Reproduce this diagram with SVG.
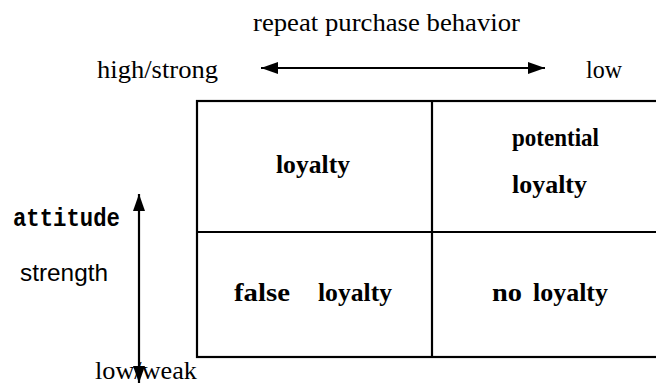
<svg xmlns="http://www.w3.org/2000/svg" width="656" height="385" viewBox="0 0 656 385">
<style>
.t{font-family:"Liberation Serif","Times New Roman",serif;font-size:26px;fill:#000}
.b{font-family:"Liberation Serif","Times New Roman",serif;font-size:26px;font-weight:bold;fill:#000}
.s{font-family:"Liberation Sans",Arial,sans-serif;font-size:24px;fill:#000}
.m{font-family:"Liberation Mono","Courier New",monospace;font-size:26px;font-weight:bold;fill:#000}
.ln{stroke:#000;stroke-width:2.2;fill:none}
</style>
<defs>
<marker id="ah" viewBox="0 0 17 12" refX="17" refY="6" markerWidth="17" markerHeight="12" markerUnits="userSpaceOnUse" orient="auto-start-reverse">
<path d="M0,0 L17,6 L0,12 Z" fill="#000"/>
</marker>
</defs>
<rect width="656" height="385" fill="#fff"/>
<g id="labels">
<text class="t" x="253" y="31" textLength="267" lengthAdjust="spacingAndGlyphs">repeat purchase behavior</text>
<text class="t" x="97" y="78" textLength="121" lengthAdjust="spacingAndGlyphs">high/strong</text>
<text class="t" x="586" y="78" textLength="36" lengthAdjust="spacingAndGlyphs">low</text>
<text class="m" x="13" y="226" textLength="107" lengthAdjust="spacingAndGlyphs">attitude</text>
<text class="s" x="20" y="281" textLength="88" lengthAdjust="spacingAndGlyphs">strength</text>
<text class="t" x="95" y="379" textLength="102" lengthAdjust="spacingAndGlyphs">low/weak</text>
</g>
<g id="grid">
<rect class="ln" x="197" y="101" width="462" height="256"/>
<line class="ln" x1="432" y1="101" x2="432" y2="357"/>
<line class="ln" x1="197" y1="232" x2="656" y2="232"/>
</g>
<g id="cell-loyalty">
<text class="b" x="276" y="173" textLength="74" lengthAdjust="spacingAndGlyphs">loyalty</text>
</g>
<g id="cell-potential">
<text class="b" x="512" y="146" textLength="87" lengthAdjust="spacingAndGlyphs">potential</text>
<text class="b" x="512" y="193" textLength="75" lengthAdjust="spacingAndGlyphs">loyalty</text>
</g>
<g id="cell-false">
<text class="b" y="301"><tspan x="234" textLength="56" lengthAdjust="spacingAndGlyphs">false</tspan><tspan x="318" textLength="74" lengthAdjust="spacingAndGlyphs">loyalty</tspan></text>
</g>
<g id="cell-no">
<text class="b" y="301"><tspan x="492" textLength="30" lengthAdjust="spacingAndGlyphs">no</tspan><tspan x="533" textLength="75" lengthAdjust="spacingAndGlyphs">loyalty</tspan></text>
</g>
<g id="connectors">
<line class="ln" x1="261" y1="68" x2="545" y2="68" marker-start="url(#ah)" marker-end="url(#ah)"/>
<line class="ln" x1="139" y1="194" x2="139" y2="383" marker-start="url(#ah)" marker-end="url(#ah)"/>
</g>
</svg>
